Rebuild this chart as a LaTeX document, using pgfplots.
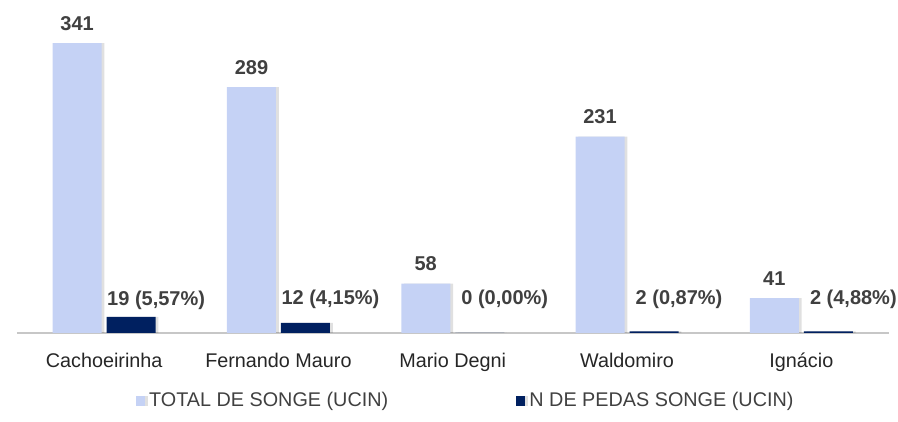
\documentclass[border=0pt]{standalone}
\usepackage{fontspec}
\setmainfont{Liberation Sans}
\usepackage{pgfplots}
\pgfplotsset{compat=1.18}
\usetikzlibrary{shadows}
\definecolor{lightbar}{HTML}{C5D2F5}
\definecolor{darkbar}{HTML}{002060}
\definecolor{txt}{HTML}{404040}
\definecolor{cattxt}{HTML}{262626}

\begin{document}
\begin{tikzpicture}
\path[use as bounding box] (-8.5pt,-44.5pt) rectangle (440.5pt,166.5pt);
\begin{axis}[
    at={(0,0)}, anchor=south west,
    scale only axis, width=435.75pt, height=166.5pt,
    xmin=-0.5, xmax=4.5, ymin=0, ymax=391.6,
    ybar=2.5pt, bar width=24.5pt,
    axis y line=none, axis x line*=bottom,
    x axis line style={draw=black!22, line width=0.7pt},
    xtick={0,...,4},
    xticklabels={Cachoeirinha, Fernando Mauro, Mario Degni, Waldomiro, Ignácio},
    major tick length=0pt,
    xticklabel style={font=\fontsize{9.9}{11}\selectfont, text=cattxt, anchor=base, yshift=-17pt},
    clip=false,
    point meta=explicit symbolic,
    nodes near coords,
    nodes near coords style={font=\bfseries\fontsize{10}{12}\selectfont, text=txt, anchor=base, inner sep=0pt},
    legend style={at={(0.516,-0.204)}, anchor=center, draw=none, fill=none,
        legend columns=2, font=\fontsize{9.9}{11}\selectfont, text=txt,
        /tikz/every even column/.append style={column sep=62pt}},
]
% TOTAL DE SONGE (UCIN)
\addplot[fill=lightbar, draw=none,
    drop shadow={shadow xshift=1.4pt, shadow yshift=0pt, fill=black, opacity=0.12},
    legend image code/.code={\fill[lightbar] (0pt,-2.3pt) rectangle (4.6pt,2.3pt);},
    nodes near coords style={yshift=6.5pt}]
    coordinates {(0,341)[341] (1,289)[289] (2,58)[58] (3,231)[231] (4,41)[41]};
% N DE PEDAS SONGE (UCIN)
\addplot[fill=darkbar, draw=none,
    drop shadow={shadow xshift=1.4pt, shadow yshift=0pt, fill=black, opacity=0.12},
    legend image code/.code={\fill[darkbar] (0pt,-2.3pt) rectangle (4.6pt,2.3pt);},
    visualization depends on={rawy \as \ry},
    nodes near coords style={xshift=12.5pt, yshift={14pt-\ry*0.4252pt}}]
    coordinates {(0,19)[19 (5,57\%)] (1,12)[12 (4,15\%)] (2,0)[0 (0,00\%)] (3,2)[2 (0,87\%)] (4,2)[2 (4,88\%)]};
\legend{TOTAL DE SONGE (UCIN), N DE PEDAS SONGE (UCIN)}
\end{axis}
\end{tikzpicture}
\end{document}
